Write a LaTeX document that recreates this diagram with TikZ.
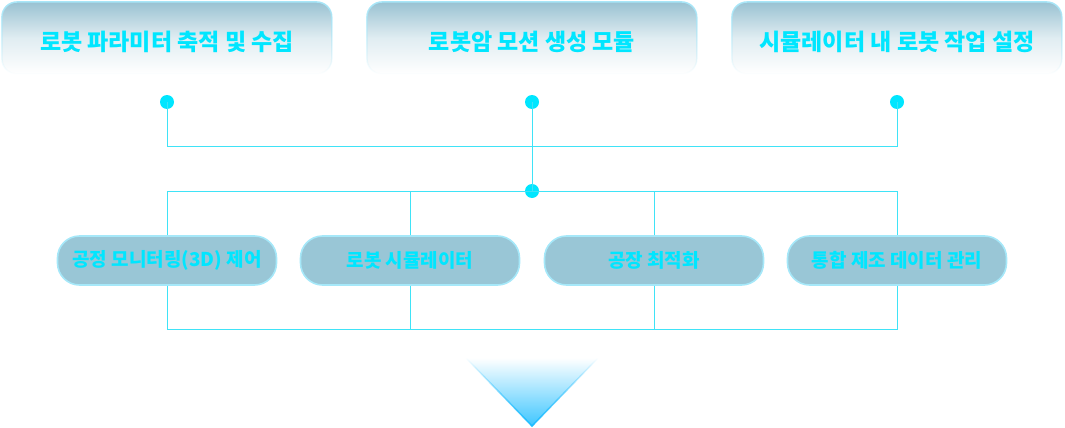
\documentclass[tikz,border=0pt]{standalone}
\usepackage{fontspec}
\setmainfont{Noto Sans CJK KR}
\usetikzlibrary{fadings}
\definecolor{cyantext}{HTML}{00E6FF}
\definecolor{linec}{HTML}{3FE3F7}
\definecolor{topgrad}{HTML}{99C2D2}
\definecolor{topborder}{HTML}{A8E6F8}
\definecolor{pillfill}{HTML}{99C6D6}
\definecolor{pillborder}{HTML}{A6E8F9}
\definecolor{arrowblue}{HTML}{1CBCFF}
\tikzfading[name=fadedown, top color=transparent!0, bottom color=transparent!100]
\tikzfading[name=fadeup, top color=transparent!100, bottom color=transparent!0]
\tikzfading[name=fadeupfast, top color=transparent!100, middle color=transparent!85, bottom color=transparent!0]
\tikzset{
  topbox/.style={rounded corners=15pt, minimum width=330pt, minimum height=70pt,
    inner sep=0pt, font=\fontsize{23}{27}\selectfont\bfseries, text=cyantext},
  pill/.style={draw=pillborder, line width=1.6pt, fill=pillfill, rounded corners=22pt,
    minimum width=219pt, minimum height=49pt, inner sep=0pt,
    font=\fontsize{19}{22}\selectfont\bfseries, text=cyantext},
  dotn/.style={circle, fill=cyantext, minimum size=14pt, inner sep=0pt},
  conn/.style={draw=linec, line width=1pt},
}
\begin{document}
\begin{tikzpicture}[x=1pt,y=-1pt]
\useasboundingbox (0,0) rectangle (1065,428);
% top boxes
\foreach \cx in {167,532,897}{
  \shade[top color=topgrad, bottom color=white, middle color=topgrad!30!white, rounded corners=15pt]
    (\cx-165,2) rectangle (\cx+165,74);
  \draw[topborder, line width=1.5pt, rounded corners=15pt, path fading=fadedown]
    (\cx-165,74) rectangle (\cx+165,2);
}
\node[topbox] (t1) at (167,42) {로봇 파라미터 축적 및 수집};
\node[topbox] (t2) at (532,42) {로봇암 모션 생성 모듈};
\node[topbox] (t3) at (897,42) {시뮬레이터 내 로봇 작업 설정};
% dots
\node[dotn] (d1) at (167,102) {};
\node[dotn] (d2) at (532,102) {};
\node[dotn] (d3) at (897,102) {};
\node[dotn] (dc) at (532,191) {};
\coordinate (j1) at (167,146);
\coordinate (j3) at (897,146);
% pills
\node[pill] (p1) at (167,260.5) {공정 모니터링(3D) 제어};
\node[pill] (p2) at (410,260.5) {로봇 시뮬레이터};
\node[pill] (p3) at (654,260.5) {공장 최적화};
\node[pill] (p4) at (897,260.5) {통합 제조 데이터 관리};
% connector junctions
\coordinate (u1) at (167,191);
\coordinate (u4) at (897,191);
\coordinate (b1) at (167,329);
\coordinate (b4) at (897,329);
% connectors
\draw[conn] (d1.center) -- (j1) -- (j3) -- (d3.center);
\draw[conn] (d2.center) -- (dc.center);
\draw[conn] (p1.north) -- (u1) -- (u4) -- (p4.north);
\draw[conn] (p2.north) -- (p2.north |- u1);
\draw[conn] (p3.north) -- (p3.north |- u1);
\draw[conn] (p1.south) -- (b1) -- (b4) -- (p4.south);
\draw[conn] (p2.south) -- (p2.south |- b1);
\draw[conn] (p3.south) -- (p3.south |- b1);
% arrow chevron
\coordinate (a1) at (466,358);
\coordinate (a2) at (598,358);
\coordinate (a3) at (532,426);
\fill[arrowblue!85, path fading=fadeupfast] (a1) -- (a3) -- (a2) -- cycle;
\draw[arrowblue, line width=1.5pt, path fading=fadeup] (a1) -- (a3) -- (a2);
\end{tikzpicture}
\end{document}
